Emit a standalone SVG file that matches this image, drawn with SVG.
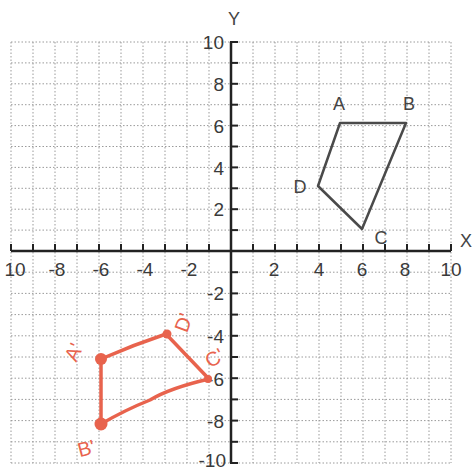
<svg xmlns="http://www.w3.org/2000/svg" width="474" height="472" viewBox="0 0 474 472">
<style>
.grid line{stroke:#9a9a9a;stroke-width:1;stroke-dasharray:1.5 2}
.axis{stroke:#222;stroke-width:2.5;fill:none}
.tick{stroke:#222;stroke-width:2}
.num{font-family:"Liberation Sans",Arial,sans-serif;font-size:19px;fill:#3a3a3a}
.lbl{font-family:"Liberation Sans",Arial,sans-serif;font-size:18px;fill:#444}
.orig{stroke:#4a4a4a;stroke-width:2.5;fill:none;stroke-linejoin:round}
.img{stroke:#e8634d;stroke-width:3.5;fill:none;stroke-linejoin:round;stroke-linecap:round}
.dot{fill:#e8634d}
.hand{font-family:"Liberation Sans",Arial,sans-serif;font-size:20px;fill:#e8634d}
</style>
<rect width="474" height="472" fill="#fff"/>
<g id="grid" class="grid">
<line x1="11" y1="42" x2="11" y2="463"/><line x1="33" y1="42" x2="33" y2="463"/><line x1="55" y1="42" x2="55" y2="463"/><line x1="77" y1="42" x2="77" y2="463"/><line x1="99" y1="42" x2="99" y2="463"/><line x1="121" y1="42" x2="121" y2="463"/><line x1="143" y1="42" x2="143" y2="463"/><line x1="165" y1="42" x2="165" y2="463"/><line x1="187" y1="42" x2="187" y2="463"/><line x1="209" y1="42" x2="209" y2="463"/>
<line x1="253" y1="42" x2="253" y2="463"/><line x1="275" y1="42" x2="275" y2="463"/><line x1="297" y1="42" x2="297" y2="463"/><line x1="319" y1="42" x2="319" y2="463"/><line x1="341" y1="42" x2="341" y2="463"/><line x1="363" y1="42" x2="363" y2="463"/><line x1="385" y1="42" x2="385" y2="463"/><line x1="407" y1="42" x2="407" y2="463"/><line x1="429" y1="42" x2="429" y2="463"/><line x1="451" y1="42" x2="451" y2="463"/>
<line x1="11" y1="42" x2="451" y2="42"/><line x1="11" y1="62.9" x2="451" y2="62.9"/><line x1="11" y1="83.8" x2="451" y2="83.8"/><line x1="11" y1="104.7" x2="451" y2="104.7"/><line x1="11" y1="125.6" x2="451" y2="125.6"/><line x1="11" y1="146.5" x2="451" y2="146.5"/><line x1="11" y1="167.4" x2="451" y2="167.4"/><line x1="11" y1="188.3" x2="451" y2="188.3"/><line x1="11" y1="209.2" x2="451" y2="209.2"/><line x1="11" y1="230.1" x2="451" y2="230.1"/>
<line x1="11" y1="272.2" x2="451" y2="272.2"/><line x1="11" y1="293.4" x2="451" y2="293.4"/><line x1="11" y1="314.6" x2="451" y2="314.6"/><line x1="11" y1="335.8" x2="451" y2="335.8"/><line x1="11" y1="357" x2="451" y2="357"/><line x1="11" y1="378.2" x2="451" y2="378.2"/><line x1="11" y1="399.4" x2="451" y2="399.4"/><line x1="11" y1="420.6" x2="451" y2="420.6"/><line x1="11" y1="441.8" x2="451" y2="441.8"/><line x1="11" y1="463" x2="451" y2="463"/>
</g>
<g id="axes">
<line class="axis" x1="231" y1="42" x2="231" y2="463"/>
<line class="axis" x1="11" y1="251" x2="451" y2="251"/>
<g class="tick">
<line x1="230" y1="42" x2="238" y2="42"/><line x1="231" y1="62.9" x2="238" y2="62.9"/><line x1="231" y1="83.8" x2="238" y2="83.8"/><line x1="231" y1="104.7" x2="238" y2="104.7"/><line x1="231" y1="125.6" x2="238" y2="125.6"/><line x1="231" y1="146.5" x2="238" y2="146.5"/><line x1="231" y1="167.4" x2="238" y2="167.4"/><line x1="231" y1="188.3" x2="238" y2="188.3"/><line x1="231" y1="209.2" x2="238" y2="209.2"/><line x1="231" y1="230.1" x2="238" y2="230.1"/>
<line x1="231" y1="272.2" x2="238" y2="272.2"/><line x1="231" y1="293.4" x2="238" y2="293.4"/><line x1="231" y1="314.6" x2="238" y2="314.6"/><line x1="231" y1="335.8" x2="238" y2="335.8"/><line x1="231" y1="357" x2="238" y2="357"/><line x1="231" y1="378.2" x2="238" y2="378.2"/><line x1="231" y1="399.4" x2="238" y2="399.4"/><line x1="231" y1="420.6" x2="238" y2="420.6"/><line x1="231" y1="441.8" x2="238" y2="441.8"/><line x1="230" y1="463" x2="238" y2="463"/>
<line x1="11" y1="251" x2="11" y2="244"/><line x1="33" y1="251" x2="33" y2="244"/><line x1="55" y1="251" x2="55" y2="244"/><line x1="77" y1="251" x2="77" y2="244"/><line x1="99" y1="251" x2="99" y2="244"/><line x1="121" y1="251" x2="121" y2="244"/><line x1="143" y1="251" x2="143" y2="244"/><line x1="165" y1="251" x2="165" y2="244"/><line x1="187" y1="251" x2="187" y2="244"/><line x1="209" y1="251" x2="209" y2="244"/>
<line x1="253" y1="251" x2="253" y2="244"/><line x1="275" y1="251" x2="275" y2="244"/><line x1="297" y1="251" x2="297" y2="244"/><line x1="319" y1="251" x2="319" y2="244"/><line x1="341" y1="251" x2="341" y2="244"/><line x1="363" y1="251" x2="363" y2="244"/><line x1="385" y1="251" x2="385" y2="244"/><line x1="407" y1="251" x2="407" y2="244"/><line x1="429" y1="251" x2="429" y2="244"/><line x1="451" y1="251" x2="451" y2="244"/>
</g>
<text class="lbl" x="234" y="25" text-anchor="middle">Y</text>
<text class="lbl" x="466" y="247" text-anchor="middle">X</text>
<g class="num" text-anchor="end">
<text x="224" y="49">10</text><text x="224" y="91">8</text><text x="224" y="133">6</text><text x="224" y="175">4</text><text x="224" y="216">2</text>
<text x="224" y="300">-2</text><text x="224" y="343">-4</text><text x="224" y="386">-6</text><text x="224" y="428">-8</text><text x="226" y="467">-10</text>
</g>
<g class="num" text-anchor="middle">
<text x="15" y="276">10</text><text x="57" y="276">-8</text><text x="101" y="276">-6</text><text x="145" y="276">-4</text><text x="189" y="276">-2</text>
<text x="274" y="276">2</text><text x="319" y="276">4</text><text x="362" y="276">6</text><text x="405" y="276">8</text><text x="451" y="276">10</text>
</g>
</g>
<g id="ABCD">
<polygon class="orig" points="340,123 406,123 362,229 318,186"/>
<text class="lbl" x="339" y="110" text-anchor="middle">A</text>
<text class="lbl" x="409" y="110" text-anchor="middle">B</text>
<text class="lbl" x="300" y="193" text-anchor="middle">D</text>
<text class="lbl" x="381" y="244" text-anchor="middle">C</text>
</g>
<g id="image">
<path class="img" d="M101,359 Q133,345 166,334 L209,379 Q170,388 150,400 Q125,410 101,424 Z"/>
<circle class="dot" cx="101" cy="359" r="6"/>
<circle class="dot" cx="101" cy="424" r="6.5"/>
<circle class="dot" cx="167" cy="334" r="4.5"/>
<circle class="dot" cx="208" cy="379" r="4"/>
<text class="hand" transform="translate(80,355) rotate(-65)" text-anchor="middle">A'</text>
<text class="hand" transform="translate(88,455) rotate(-15)" text-anchor="middle">B'</text>
<text class="hand" transform="translate(218,364) rotate(-30)" text-anchor="middle">C'</text>
<text class="hand" transform="translate(190,325) rotate(-70)" text-anchor="middle">D'</text>
</g>
</svg>
